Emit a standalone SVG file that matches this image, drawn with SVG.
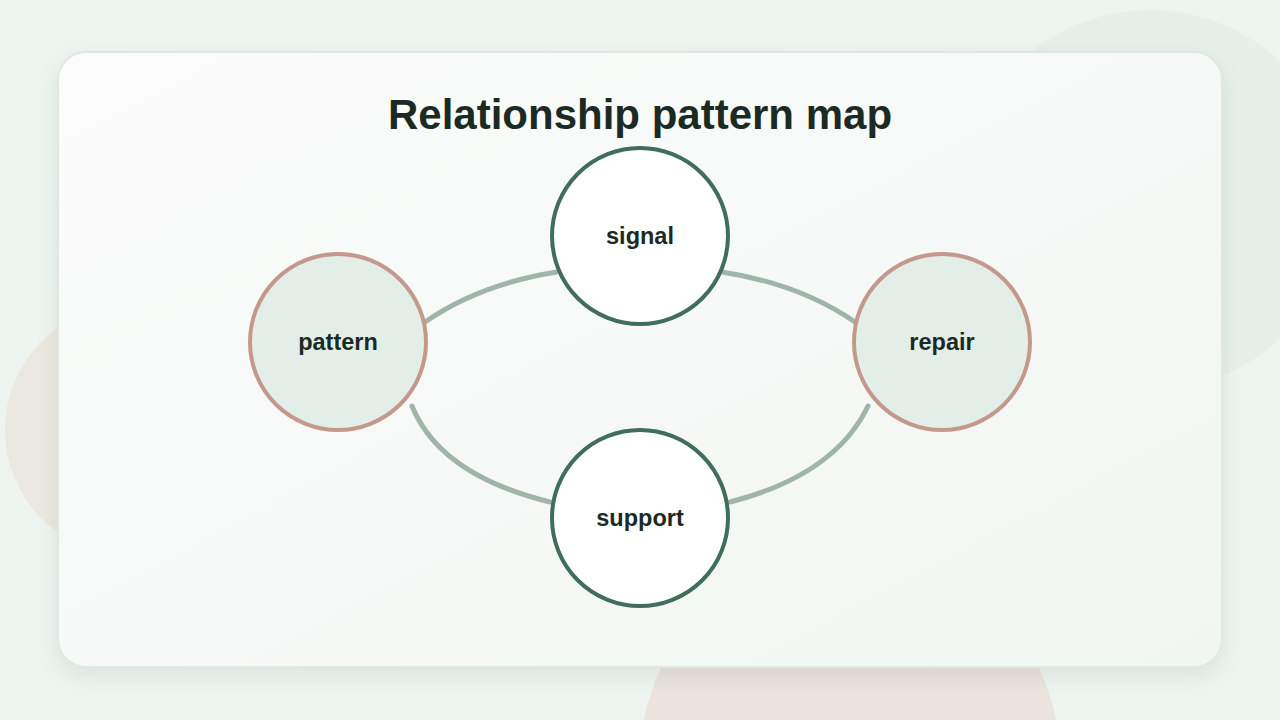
<svg xmlns="http://www.w3.org/2000/svg" width="1280" height="720" viewBox="0 0 1280 720">
<defs>
<linearGradient id="card" x1="0" y1="0" x2="1" y2="1"><stop offset="0" stop-color="#fbfcfb"/><stop offset="1" stop-color="#f1f6f2"/></linearGradient>
<filter id="sh" x="-10%" y="-10%" width="120%" height="130%"><feDropShadow dx="0" dy="8" stdDeviation="10" flood-color="#000" flood-opacity="0.08"/></filter>
<style>
.edge{fill:none;stroke:#9fb5aa;stroke-width:5;stroke-linecap:round}
.lbl{font-family:"Liberation Sans",Arial,sans-serif;font-weight:bold;font-size:23.5px;fill:#1b2b24;text-anchor:middle}
.hub{fill:#ffffff;stroke:#3f6e5c;stroke-width:4}
.side{fill:#e4eee8;stroke:#c4998c;stroke-width:4}
</style>
</defs>
<rect width="1280" height="720" fill="#eef4f0"/>
<circle cx="1150" cy="200" r="190" fill="#e6efea"/>
<circle cx="130" cy="430" r="125" fill="#ebe7e1"/>
<circle cx="850" cy="760" r="210" fill="#ebe3de"/>
<rect x="58" y="52" width="1164" height="615" rx="28" fill="url(#card)" stroke="#dfe8e3" stroke-width="2" filter="url(#sh)"/>
<text x="640" y="129" font-family="Liberation Sans,Arial,sans-serif" font-weight="bold" font-size="42" fill="#1b2b24" text-anchor="middle">Relationship pattern map</text>
<g id="connectors">
<path class="edge" d="M425,322 Q480,284 557,272"/>
<path class="edge" d="M722,272 Q800,284 855,322"/>
<path class="edge" d="M868,406 Q835,475 730,502"/>
<path class="edge" d="M550,502 Q440,475 412,406"/>
</g>
<g id="signal"><circle class="hub" cx="640" cy="236" r="88"/><text class="lbl" x="640" y="244">signal</text></g>
<g id="pattern"><circle class="side" cx="338" cy="342" r="88"/><text class="lbl" x="338" y="350">pattern</text></g>
<g id="repair"><circle class="side" cx="942" cy="342" r="88"/><text class="lbl" x="942" y="350">repair</text></g>
<g id="support"><circle class="hub" cx="640" cy="518" r="88"/><text class="lbl" x="640" y="526">support</text></g>
</svg>
